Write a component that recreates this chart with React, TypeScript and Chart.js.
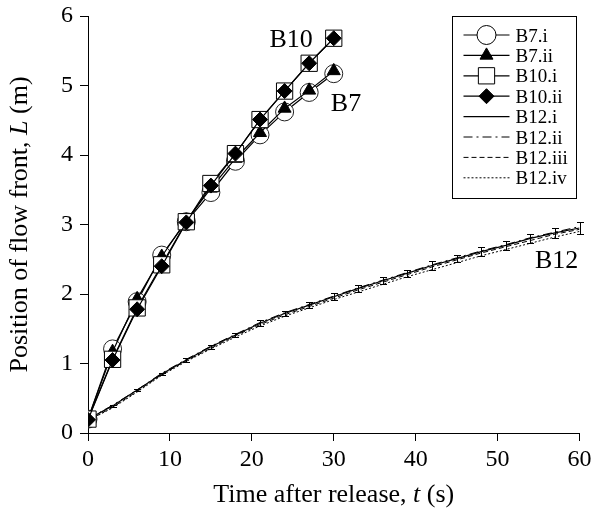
import { useEffect, useRef } from "react";
import { Chart, registerables } from "chart.js";

Chart.register(...registerables);

const SERIF = '"Liberation Serif", "Times New Roman", Times, serif';

// ---- data ----
const tShort = [0, 3, 6, 9, 12, 15, 18, 21, 24, 27, 30];
const b7i = [0.2, 1.21, 1.89, 2.56, 3.04, 3.46, 3.91, 4.29, 4.62, 4.9, 5.17];
const b7ii = [0.2, 1.17, 1.93, 2.54, 3.06, 3.52, 3.95, 4.32, 4.67, 4.93, 5.21];
const b10i = [0.2, 1.06, 1.8, 2.42, 3.04, 3.59, 4.02, 4.51, 4.92, 5.32, 5.68];
const b10ii = [0.19, 1.05, 1.78, 2.4, 3.03, 3.56, 4.02, 4.51, 4.92, 5.32, 5.68];

const tLong = [0, 3, 6, 9, 12, 15, 18, 21, 24, 27, 30, 33, 36, 39, 42, 45, 48, 51, 54, 57, 60];
const b12i = [0.2, 0.39, 0.62, 0.85, 1.05, 1.24, 1.41, 1.58, 1.72, 1.84, 1.96, 2.08, 2.19, 2.3, 2.41, 2.51, 2.61, 2.7, 2.8, 2.88, 2.95];
const b12ii = [0.2, 0.4, 0.62, 0.86, 1.06, 1.25, 1.42, 1.59, 1.73, 1.85, 1.97, 2.09, 2.2, 2.31, 2.42, 2.52, 2.62, 2.71, 2.81, 2.89, 2.97];
const b12iii = [0.18, 0.37, 0.6, 0.84, 1.04, 1.22, 1.4, 1.56, 1.7, 1.82, 1.94, 2.06, 2.17, 2.28, 2.39, 2.49, 2.59, 2.68, 2.77, 2.86, 2.93];
const b12iv = [0.18, 0.36, 0.59, 0.83, 1.03, 1.21, 1.38, 1.54, 1.68, 1.8, 1.92, 2.03, 2.14, 2.25, 2.35, 2.45, 2.55, 2.64, 2.73, 2.82, 2.9];
const b12err = [0, 0.015, 0.02, 0.02, 0.025, 0.03, 0.03, 0.04, 0.04, 0.04, 0.05, 0.05, 0.05, 0.05, 0.06, 0.05, 0.06, 0.06, 0.06, 0.07, 0.08];

const xTicks = [0, 10, 20, 30, 40, 50, 60];
const yTicks = [0, 1, 2, 3, 4, 5, 6];

const seriesLabels = ["B7.i", "B7.ii", "B10.i", "B10.ii", "B12.i", "B12.ii", "B12.iii", "B12.iv"];
const groupLabels = ["B10", "B7", "B12"];
const groupT = [24.8, 31.5, 57.2];
const groupL = [5.68, 4.76, 2.5];

const xTitle = ["Time after release, ", "t", " (s)"];
const yTitle = ["Position of flow front, ", "L", " (m)"];

// ---- styles ----
type Sty = { marker: string | null; r: number; fill: string; dash: number[]; lw: number };
const styles: Sty[] = [
  { marker: "circle", r: 9, fill: "#fff", dash: [], lw: 1.2 },
  { marker: "triangle", r: 7.5, fill: "#000", dash: [], lw: 1.2 },
  { marker: "rect", r: 11.5, fill: "#fff", dash: [], lw: 1.2 },
  { marker: "rectRot", r: 7.5, fill: "#000", dash: [], lw: 1.2 },
  { marker: null, r: 0, fill: "#000", dash: [], lw: 1.2 },
  { marker: null, r: 0, fill: "#000", dash: [9, 4, 2, 4], lw: 1 },
  { marker: null, r: 0, fill: "#000", dash: [5, 3], lw: 1 },
  { marker: null, r: 0, fill: "#000", dash: [2, 2], lw: 1 },
];

function drawMarker(ctx: CanvasRenderingContext2D, kind: string, x: number, y: number, r: number, fill: string) {
  ctx.beginPath();
  if (kind === "circle") {
    ctx.arc(x, y, r, 0, Math.PI * 2);
  } else if (kind === "triangle") {
    for (let k = 0; k < 3; k++) {
      const a = (k * 2 * Math.PI) / 3;
      const px = x + Math.sin(a) * r;
      const py = y - Math.cos(a) * r;
      if (k === 0) ctx.moveTo(px, py);
      else ctx.lineTo(px, py);
    }
    ctx.closePath();
  } else if (kind === "rect") {
    const s = Math.SQRT1_2 * r;
    ctx.rect(x - s, y - s, 2 * s, 2 * s);
  } else if (kind === "rectRot") {
    ctx.moveTo(x - r, y);
    ctx.lineTo(x, y - r);
    ctx.lineTo(x + r, y);
    ctx.lineTo(x, y + r);
    ctx.closePath();
  }
  ctx.fillStyle = fill;
  ctx.fill();
  ctx.setLineDash([]);
  ctx.lineWidth = 1;
  ctx.strokeStyle = "#000";
  ctx.stroke();
}

function mixedText(ctx: CanvasRenderingContext2D, parts: string[], size: number) {
  const fonts = [`${size}px ${SERIF}`, `italic ${size}px ${SERIF}`, `${size}px ${SERIF}`];
  const widths = parts.map((p, i) => {
    ctx.font = fonts[i];
    return ctx.measureText(p).width;
  });
  const total = widths.reduce((a, b) => a + b, 0);
  let cx = -total / 2;
  parts.forEach((p, i) => {
    ctx.font = fonts[i];
    ctx.fillText(p, cx, 0);
    cx += widths[i];
  });
}

const decor = {
  id: "decor",
  afterDatasetsDraw(chart: any) {
    const { ctx, chartArea } = chart;
    const xs = chart.scales.x;
    const ys = chart.scales.y;
    ctx.save();
    // error bars on B12.i
    ctx.strokeStyle = "#000";
    ctx.lineWidth = 1;
    ctx.setLineDash([]);
    tLong.forEach((t, i) => {
      const e = b12err[i];
      if (!e) return;
      const px = Math.round(xs.getPixelForValue(t)) + 0.5;
      const y1 = Math.round(ys.getPixelForValue(b12i[i] - e)) + 0.5;
      const y2 = Math.round(ys.getPixelForValue(b12i[i] + e)) + 0.5;
      ctx.beginPath();
      ctx.moveTo(px, y1);
      ctx.lineTo(px, y2);
      ctx.moveTo(px - 3.5, y1);
      ctx.lineTo(px + 3.5, y1);
      ctx.moveTo(px - 3.5, y2);
      ctx.lineTo(px + 3.5, y2);
      ctx.stroke();
    });
    // group labels
    ctx.fillStyle = "#000";
    ctx.font = `26px ${SERIF}`;
    ctx.textAlign = "center";
    ctx.textBaseline = "alphabetic";
    groupLabels.forEach((g, i) => {
      ctx.fillText(g, xs.getPixelForValue(groupT[i]), ys.getPixelForValue(groupL[i]) + 8.6);
    });
    // legend
    const bx = Math.round(chartArea.right - 128) + 0.5;
    const by = Math.round(chartArea.top) + 0.5;
    const bw = 124;
    const bh = 182;
    ctx.fillStyle = "#fff";
    ctx.fillRect(bx, by, bw, bh);
    ctx.strokeStyle = "#000";
    ctx.lineWidth = 1;
    ctx.strokeRect(bx, by, bw, bh);
    ctx.font = `19px ${SERIF}`;
    ctx.textAlign = "left";
    seriesLabels.forEach((lab, i) => {
      const st = styles[i];
      const cy = by + 18.5 + i * 20.4;
      ctx.beginPath();
      ctx.setLineDash(st.dash);
      ctx.lineWidth = st.lw;
      ctx.strokeStyle = "#000";
      ctx.moveTo(bx + 11, cy);
      ctx.lineTo(bx + 57, cy);
      ctx.stroke();
      if (st.marker) drawMarker(ctx, st.marker, bx + 34, cy, st.marker === "rect" ? 11.5 : st.marker === "circle" ? 9.5 : 7.5, st.fill);
      ctx.fillStyle = "#000";
      ctx.fillText(lab, bx + 63, cy + 6.5);
    });
    ctx.restore();
  },
  afterDraw(chart: any) {
    const { ctx, chartArea } = chart;
    ctx.save();
    ctx.fillStyle = "#000";
    ctx.textAlign = "left";
    ctx.textBaseline = "alphabetic";
    ctx.translate((chartArea.left + chartArea.right) / 2, 502);
    mixedText(ctx, xTitle, 26);
    ctx.restore();
    ctx.save();
    ctx.fillStyle = "#000";
    ctx.textAlign = "left";
    ctx.textBaseline = "alphabetic";
    ctx.translate(27, (chartArea.top + chartArea.bottom) / 2);
    ctx.rotate(-Math.PI / 2);
    mixedText(ctx, yTitle, 26);
    ctx.restore();
  },
};

export default function App() {
  const ref = useRef<HTMLCanvasElement | null>(null);
  useEffect(() => {
    document.body.style.margin = "0";
    document.body.style.overflow = "hidden";
    const canvas = ref.current;
    if (!canvas) return;
    const mk = (xs: number[], ys: number[]) => xs.map((x, i) => ({ x, y: ys[i] }));
    const seriesData = [
      mk(tShort, b7i),
      mk(tShort, b7ii),
      mk(tShort, b10i),
      mk(tShort, b10ii),
      mk(tLong, b12i),
      mk(tLong, b12ii),
      mk(tLong, b12iii),
      mk(tLong, b12iv),
    ];
    const orders = [5, 4, 3, 2, 9, 8, 7, 6];
    const datasets = seriesData.map((d, i) => {
      const st = styles[i];
      return {
        label: seriesLabels[i],
        data: d,
        order: orders[i],
        borderColor: "#000",
        borderWidth: st.lw,
        borderDash: st.dash,
        tension: 0,
        fill: false,
        pointStyle: (st.marker || "circle") as any,
        pointRadius: st.r,
        pointHoverRadius: st.r,
        pointBackgroundColor: st.fill,
        pointBorderColor: i === 0 ? "#222" : "#000",
        pointBorderWidth: 1,
      };
    });
    const chart = new Chart(canvas, {
      type: "line",
      data: { datasets },
      options: {
        animation: false,
        responsive: false,
        maintainAspectRatio: false,
        layout: { padding: { left: 0, right: 11, top: 16, bottom: 0 } },
        plugins: { legend: { display: false }, tooltip: { enabled: false } },
        scales: {
          x: {
            type: "linear",
            min: 0,
            max: 60,
            afterBuildTicks: (s: any) => {
              s.ticks = xTicks.map((v) => ({ value: v }));
            },
            afterFit: (s: any) => {
              s.height = 81;
              s.paddingLeft = 0;
              s.paddingRight = 0;
            },
            ticks: { color: "#000", font: { family: SERIF, size: 24 }, padding: 4, maxRotation: 0 },
            grid: { drawOnChartArea: false, drawTicks: true, tickLength: 8, color: "#000", lineWidth: 1 },
            border: { display: true, color: "#000", width: 1 },
          },
          y: {
            type: "linear",
            min: 0,
            max: 6,
            afterBuildTicks: (s: any) => {
              s.ticks = yTicks.map((v) => ({ value: v }));
            },
            afterFit: (s: any) => {
              s.width = 88;
              s.paddingTop = 0;
              s.paddingBottom = 0;
            },
            ticks: { color: "#000", font: { family: SERIF, size: 24 }, padding: 7 },
            grid: { drawOnChartArea: false, drawTicks: true, tickLength: 8, color: "#000", lineWidth: 1 },
            border: { display: true, color: "#000", width: 1 },
          },
        },
      },
      plugins: [decor],
    });
    return () => chart.destroy();
  }, []);
  return <canvas ref={ref} width={592} height={514} style={{ display: "block", width: 592, height: 514 }} />;
}
